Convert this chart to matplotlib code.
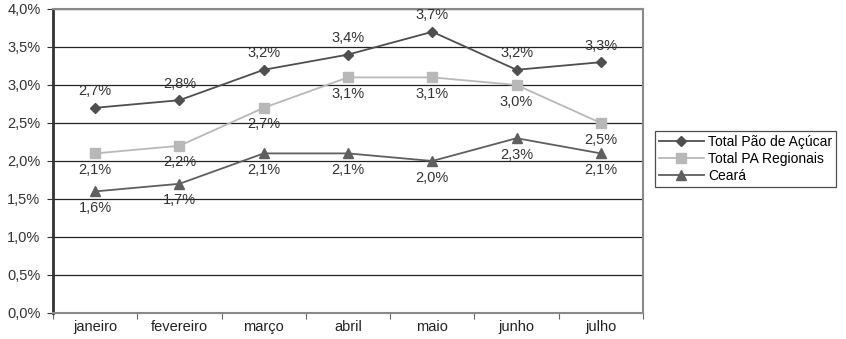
import matplotlib
matplotlib.use("Agg")
import matplotlib.pyplot as plt
from matplotlib.ticker import FixedLocator, NullFormatter

plt.rcParams['font.family'] = ['Liberation Sans', 'DejaVu Sans']

months = ["janeiro", "fevereiro", "março", "abril", "maio", "junho", "julho"]
pao = [2.7, 2.8, 3.2, 3.4, 3.7, 3.2, 3.3]
regionais = [2.1, 2.2, 2.7, 3.1, 3.1, 3.0, 2.5]
ceara = [1.6, 1.7, 2.1, 2.1, 2.0, 2.3, 2.1]
yticks = [0.0, 0.5, 1.0, 1.5, 2.0, 2.5, 3.0, 3.5, 4.0]

FS = 10.5

fig = plt.figure(figsize=(8.46, 3.39), dpi=100)
ax = fig.add_axes([53/846, 26/339, (643-53)/846, (313-9)/339])

x = list(range(len(months)))
series = [
    ("Total Pão de Açúcar", pao, "#4f4f4f", "D", 5, 1.3, "above"),
    ("Total PA Regionais", regionais, "#b8b8b8", "s", 7, 1.3, "below"),
    ("Ceará", ceara, "#5f5f5f", "^", 7, 1.3, "below"),
]
for name, vals, col, mk, ms, lw, pos in series:
    ax.plot(x, vals, color=col, marker=mk, markersize=ms, linewidth=lw, label=name, zorder=3)
    for xi, v in zip(x, vals):
        off = 12 if pos == "above" else -12
        ax.annotate(f"{v:.1f}%".replace(".", ","), (xi, v), xytext=(0, off),
                    textcoords="offset points", ha="center", va="center",
                    fontsize=FS, color="#333333")

ax.set_xlim(-0.5, len(months) - 0.5)
ax.set_ylim(0, 4.0)
ax.set_yticks(yticks)
ax.set_yticklabels([f"{t:.1f}%".replace(".", ",") for t in yticks], fontsize=FS, color="#333333")
ax.xaxis.set_major_locator(FixedLocator([i - 0.5 for i in range(len(months) + 1)]))
ax.xaxis.set_major_formatter(NullFormatter())
ax.xaxis.set_minor_locator(FixedLocator(x))
ax.set_xticklabels(months, minor=True, fontsize=FS, color="#222222")
ax.tick_params(axis='x', which='minor', length=0, pad=5)
ax.tick_params(axis='x', which='major', length=4, color="#666666", direction='out')
ax.tick_params(axis='y', length=4, color="#333333", direction='out', pad=5)

ax.grid(axis='y', color="#222222", linewidth=0.9, zorder=0)
ax.set_axisbelow(True)
ax.spines['left'].set_color("#333333")
ax.spines['left'].set_linewidth(2)
for s in ['top', 'right', 'bottom']:
    ax.spines[s].set_color("#8a8a8a")
    ax.spines[s].set_linewidth(1.5)

leg = fig.legend(loc="upper left", bbox_to_anchor=(655/846, 1 - 131/339), fontsize=10,
                 frameon=True, fancybox=False, handlelength=3.2, borderpad=0.3,
                 labelspacing=0.2, handletextpad=0.3, borderaxespad=0)
leg.get_frame().set_edgecolor("#222222")
leg.get_frame().set_linewidth(0.9)

fig.savefig("out.png", dpi=100)
